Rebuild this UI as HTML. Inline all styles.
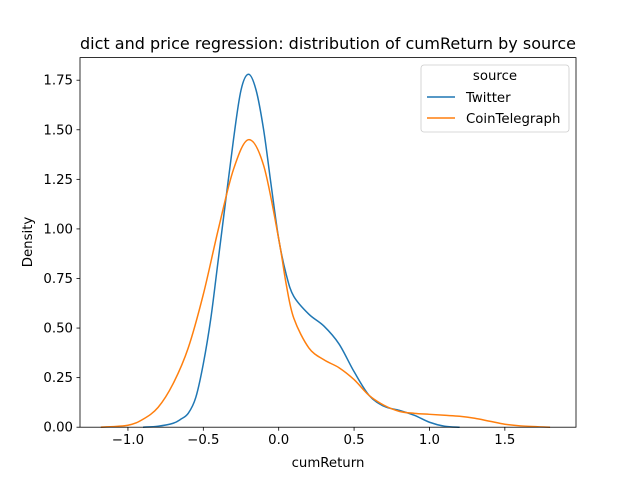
<!DOCTYPE html>
<html><head><meta charset="utf-8"><style>
body{margin:0;background:#fff}
svg{font-family:"DejaVu Sans","Liberation Sans",sans-serif}
</style></head><body>
<svg id="chart" width="640" height="480" viewBox="0 0 640 480">
<rect width="640" height="480" fill="#fff"/>
<text x="328" y="49" font-size="16" text-anchor="middle">dict and price regression: distribution of cumReturn by source</text>
<g id="xt"></g>
<g id="yt"></g>
<g id="lines"></g>
<rect x="80" y="57.6" width="496" height="369.6" fill="none" stroke="#000" stroke-width="0.8"/>
<text x="328" y="467" font-size="13.3" text-anchor="middle">cumReturn</text>
<text x="0" y="0" font-size="13.3" text-anchor="middle" transform="translate(32,242) rotate(-90)">Density</text>
<g>
<rect x="421" y="65" width="148" height="67" rx="3" fill="#fff" fill-opacity="0.8" stroke="#ccc" stroke-width="0.8"/>
<text x="495" y="80" font-size="13.3" text-anchor="middle">source</text>
<line x1="427" y1="97" x2="455" y2="97" stroke="#1f77b4" stroke-width="1.5"/>
<text x="466" y="102" font-size="13.3">Twitter</text>
<line x1="427" y1="118" x2="455" y2="118" stroke="#ff7f0e" stroke-width="1.5"/>
<text x="466" y="123" font-size="13.3">CoinTelegraph</text>
</g>
</svg>
<script>
const xTicks=[-1.0,-0.5,0.0,0.5,1.0,1.5];
const yTicks=[0,0.25,0.5,0.75,1.0,1.25,1.5,1.75];
const twitterX=[-0.9,-0.8,-0.7,-0.65,-0.6,-0.55,-0.5,-0.45,-0.4,-0.3,-0.25,-0.2,-0.15,-0.1,-0.05,0,0.05,0.1,0.2,0.3,0.4,0.5,0.6,0.7,0.8,0.9,1.0,1.1,1.2];
const twitterY=[0,0.005,0.02,0.04,0.07,0.15,0.32,0.55,0.85,1.45,1.7,1.78,1.7,1.5,1.22,0.95,0.77,0.66,0.57,0.51,0.42,0.28,0.16,0.105,0.085,0.06,0.025,0.005,0];
const coinX=[-1.18,-1.0,-0.9,-0.8,-0.7,-0.6,-0.5,-0.4,-0.3,-0.2,-0.1,0,0.05,0.1,0.2,0.3,0.4,0.5,0.6,0.7,0.8,0.9,1.0,1.1,1.2,1.3,1.4,1.5,1.6,1.8];
const coinY=[0,0.01,0.04,0.1,0.22,0.4,0.67,1.0,1.3,1.45,1.32,0.95,0.72,0.55,0.4,0.34,0.3,0.24,0.16,0.11,0.08,0.07,0.065,0.06,0.055,0.045,0.03,0.015,0.007,0];
const NS="http://www.w3.org/2000/svg";
const L=80,R=576,T=57.6,B=427.2,xmin=-1.318,xmax=1.972,ymin=0,ymax=1.864;
const sx=v=>L+(v-xmin)/(xmax-xmin)*(R-L);
const sy=v=>B-(v-ymin)/(ymax-ymin)*(B-T);
function mk(tag,attrs,parent){const e=document.createElementNS(NS,tag);for(const k in attrs)e.setAttribute(k,attrs[k]);parent.appendChild(e);return e;}
const xt=document.getElementById('xt'),yt=document.getElementById('yt'),lines=document.getElementById('lines');
xTicks.forEach(v=>{const x=sx(v);
const t=mk('line',{x1:x,x2:x,y1:B,y2:B+3.5,stroke:'#000','stroke-width':0.8},xt);


const l=mk('text',{x:x,y:B+17,'font-size':13.3,'text-anchor':'middle'},xt);
l.textContent=(v<0?'\u2212':'')+Math.abs(v).toFixed(1);

});
yTicks.forEach(v=>{const y=sy(v);
const t=mk('line',{x1:L-3.5,x2:L,y1:y,y2:y,stroke:'#000','stroke-width':0.8},yt);


const l=mk('text',{x:L-7,y:y+4.5,'font-size':13.3,'text-anchor':'end'},yt);
l.textContent=v.toFixed(2);

});
function path(xs,ys){const p=xs.map((x,i)=>[sx(x),sy(ys[i])]);let d='M'+p[0][0]+','+p[0][1];
for(let i=0;i<p.length-1;i++){const p0=p[Math.max(0,i-1)],p1=p[i],p2=p[i+1],p3=p[Math.min(p.length-1,i+2)];
const c1=[p1[0]+(p2[0]-p0[0])/6,p1[1]+(p2[1]-p0[1])/6],c2=[p2[0]-(p3[0]-p1[0])/6,p2[1]-(p3[1]-p1[1])/6];
d+=`C${c1[0]},${c1[1]} ${c2[0]},${c2[1]} ${p2[0]},${p2[1]}`;}return d;}
const a=mk('path',{d:path(twitterX,twitterY),fill:'none',stroke:'#1f77b4','stroke-width':1.5},lines);


const b=mk('path',{d:path(coinX,coinY),fill:'none',stroke:'#ff7f0e','stroke-width':1.5},lines);


</script>
</body></html>
